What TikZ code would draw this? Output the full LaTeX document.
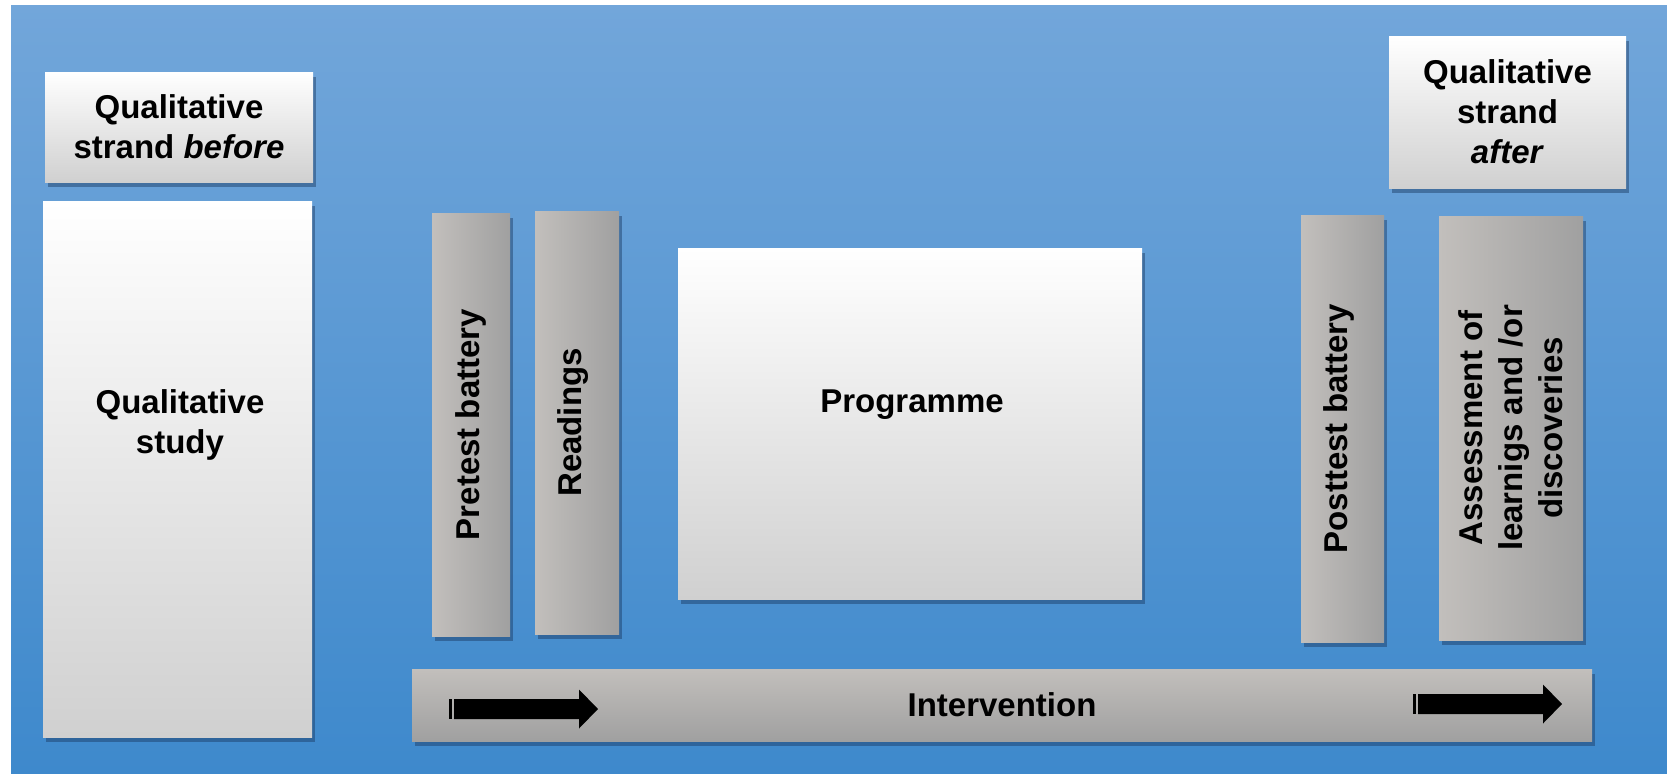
\documentclass[tikz,border=0pt]{standalone}
\usepackage{fontspec}
\setmainfont{Liberation Sans}
\usetikzlibrary{shadows}
\definecolor{bgtop}{RGB}{114,166,218}
\definecolor{bgbottom}{RGB}{62,137,204}
\definecolor{boxgrey}{RGB}{208,208,208}
\definecolor{barlight}{RGB}{194,191,188}
\definecolor{bardark}{RGB}{160,160,160}
\definecolor{shadowblue}{RGB}{25,55,95}
\tikzset{
	boxshadow/.style={drop shadow={shadow xshift=1.5pt, shadow yshift=-2.5pt, fill=shadowblue, opacity=.45}},
	whitebox/.style={boxshadow, draw=none, inner sep=0pt, top color=white, middle color=white!96!gray, bottom color=boxgrey},
	greybox/.style={boxshadow, draw=none, inner sep=0pt, left color=barlight, right color=bardark},
	barbox/.style={boxshadow, draw=none, inner sep=0pt, top color=barlight, bottom color=bardark},
	boxtext/.style={font=\bfseries\fontsize{16.5}{20}\selectfont, align=center, text=black, inner sep=0pt}
}
\newcommand{\stripearrow}[2]{% {left x}{centre y}
	\fill[black] (#1,#2-10) rectangle (#1+3,#2+10); % stripe
	\fill[black] (#1+5,#2-10) -- (#1+130,#2-10) -- (#1+130,#2-19.5) -- (#1+149,#2)
		-- (#1+130,#2+19.5) -- (#1+130,#2+10) -- (#1+5,#2+10) -- cycle
}

\begin{document}
\begin{tikzpicture}[x=0.5pt, y=-0.5pt]
	\useasboundingbox (0,0) rectangle (1667,773);
	\fill[white] (0,0) rectangle (1667,773);
	\shade[top color=bgtop, bottom color=bgbottom] (11,5) rectangle (1667,773);

	% qualitative strand before
	\node[whitebox, minimum width=134pt, minimum height=55pt] (before) at (179,127) {};
	\node[boxtext] (beforetext) at (before) {Qualitative\\strand \textit{before}};
	\node[whitebox, minimum width=134.5pt, minimum height=268pt] (study) at (177.5,469) {};
	\node[boxtext] (studytext) at (180,425) {Qualitative\\study};

	% intervention
	\node[greybox, minimum width=39pt, minimum height=211.5pt] (pretest) at (471,424.5) {};
	\node[boxtext, rotate=90] (pretesttext) at (pretest) {Pretest battery};
	\node[greybox, minimum width=42pt, minimum height=211.5pt] (readings) at (577,422.5) {};
	\node[boxtext, rotate=90] (readingstext) at (573,422.5) {Readings};
	\node[whitebox, minimum width=232pt, minimum height=175.5pt] (programme) at (910,423.5) {};
	\node[boxtext] (programmetext) at (912,405) {Programme};
	\node[greybox, minimum width=41.5pt, minimum height=213.5pt] (posttest) at (1342.5,428.5) {};
	\node[boxtext, rotate=90] (posttesttext) at (1339,428.5) {Posttest battery};
	\node[greybox, minimum width=72pt, minimum height=212pt] (assessment) at (1511,428) {};
	\node[boxtext, rotate=90] (assessmenttext) at (assessment) {Assessment of\\learnigs and /or\\discoveries};

	\node[barbox, minimum width=590pt, minimum height=36pt] (intervention) at (1002,705) {};
	\node[boxtext] (interventiontext) at (intervention) {Intervention};
	\stripearrow{449}{709};
	\stripearrow{1413}{704};

	% qualitative strand after
	\node[whitebox, minimum width=118.5pt, minimum height=76pt] (after) at (1507.5,112) {};
	\node[boxtext] (aftertext) at (after) {Qualitative\\strand\\\textit{after}};
\end{tikzpicture}
\end{document}
